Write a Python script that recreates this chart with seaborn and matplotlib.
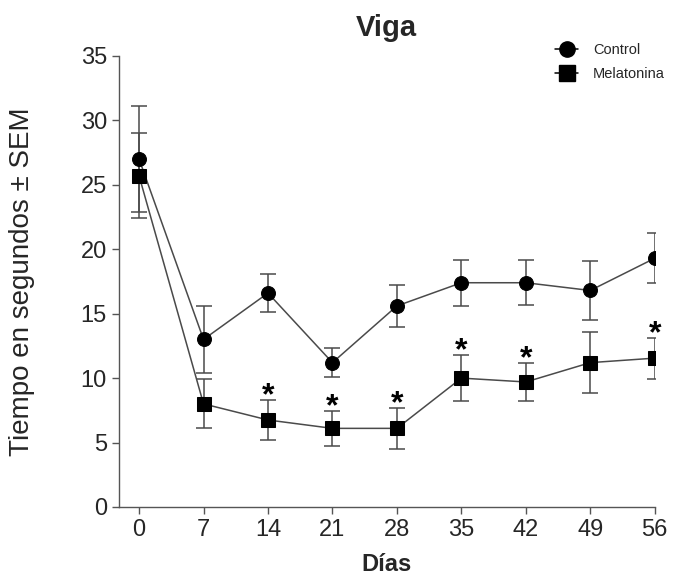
import numpy as np
import pandas as pd
import matplotlib
matplotlib.use("Agg")
import matplotlib.pyplot as plt
import seaborn as sns

# Values
dias = [0, 7, 14, 21, 28, 35, 42, 49, 56]
control = [27.0, 13.0, 16.6, 11.2, 15.6, 17.4, 17.4, 16.8, 19.3]
control_sem = [4.1, 2.6, 1.5, 1.1, 1.6, 1.8, 1.75, 2.3, 1.95]
melatonina = [25.7, 8.0, 6.75, 6.1, 6.1, 10.0, 9.7, 11.2, 11.55]
melatonina_sem = [3.3, 1.9, 1.55, 1.35, 1.6, 1.8, 1.5, 2.35, 1.6]
signif_dias = [14, 21, 28, 35, 42, 56]

sns.set_theme(style="ticks")
plt.rcParams["font.family"] = ["Liberation Sans", "DejaVu Sans"]

df = pd.DataFrame({
    "Días": dias * 2,
    "valor": control + melatonina,
    "grupo": ["Control"] * len(dias) + ["Melatonina"] * len(dias),
})

fig = plt.figure(figsize=(6.75, 5.79), dpi=100)
ax = fig.add_axes([0.176, 0.1244, 0.794, 0.779])

line_col = "#4a4a4a"

# error bars first so markers sit on top
for vals, sem in [(control, control_sem), (melatonina, melatonina_sem)]:
    ax.errorbar(dias, vals, yerr=sem, fmt="none", ecolor=line_col,
                elinewidth=1.1, capsize=6, capthick=1.1, zorder=1)

sns.lineplot(data=df, x="Días", y="valor", hue="grupo", style="grupo",
             markers={"Control": "o", "Melatonina": "s"}, dashes=False,
             palette={"Control": line_col, "Melatonina": line_col},
             markersize=10, linewidth=1.1, ax=ax, zorder=2,
             markerfacecolor="black", markeredgecolor="black", legend=False)

# significance marks above Melatonina error bars
for d in signif_dias:
    i = dias.index(d)
    top = melatonina[i] + melatonina_sem[i]
    ax.text(d, top - 0.9, "*", ha="center", va="bottom",
            fontsize=23, fontweight="bold", color="black")

ax.set_xlim(-2.2, 56)
ax.set_ylim(0, 35)
ax.set_xticks(dias)
ax.set_yticks(np.arange(0, 36, 5))
ax.tick_params(axis="both", labelsize=17, length=5, width=1,
               color="#555555", direction="out")
sns.despine(ax=ax)
for s in ["left", "bottom"]:
    ax.spines[s].set_color("#555555")
    ax.spines[s].set_linewidth(1)

ax.set_xlabel("Días", fontsize=17, fontweight="bold", labelpad=9)
ax.set_ylabel("Tiempo en segundos ± SEM", fontsize=20, labelpad=33)
ax.set_title("Viga", fontsize=21, fontweight="bold", pad=14)

# legend
handles = [
    plt.Line2D([], [], color="black", marker="o", markersize=11, linewidth=1.1),
    plt.Line2D([], [], color="black", marker="s", markersize=11, linewidth=1.1),
]
fig.legend(handles, ["Control", "Melatonina"], loc="upper left",
           bbox_to_anchor=(0.822, 0.925), frameon=False, fontsize=10.5,
           handlelength=1.6, handletextpad=1.0, labelspacing=0.65,
           borderpad=0, borderaxespad=0)

fig.savefig("out.png", dpi=100)
